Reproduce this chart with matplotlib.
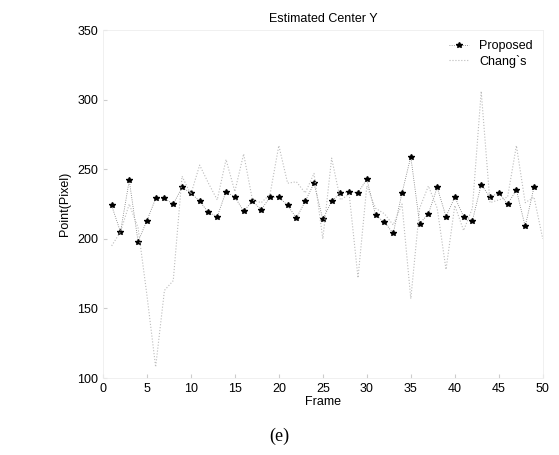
import matplotlib.pyplot as plt

# datos
frames_proposed = list(range(1, 50))
proposed = [224, 205, 242, 198, 213, 229, 229, 225, 237, 233,
            227, 219, 216, 234, 230, 220, 227, 221, 230, 230,
            224, 215, 227, 240, 214, 227, 233, 234, 233, 243,
            217, 212, 204, 233, 259, 211, 218, 237, 216, 230,
            216, 213, 239, 230, 233, 225, 235, 209, 237]

frames_chang = list(range(1, 51))
chang = [195, 205, 225, 208, 160, 108, 163, 170, 245, 232,
         253, 240, 228, 257, 234, 261, 228, 226, 232, 267,
         240, 241, 233, 247, 200, 258, 228, 232, 172, 238,
         222, 218, 210, 225, 157, 222, 238, 222, 178, 224,
         206, 222, 306, 226, 228, 230, 267, 226, 230, 200]

plt.rcParams['font.family'] = ['Liberation Sans', 'DejaVu Sans']

fig = plt.figure(figsize=(5.59, 4.55), dpi=100)
ax = fig.add_axes([0.184, 0.169, 0.787, 0.765])

ax.plot(frames_proposed, proposed, color='#777777', linestyle=':', linewidth=0.6,
        marker='*', markersize=4, markerfacecolor='black', markeredgecolor='black',
        label='Proposed')
ax.plot(frames_chang, chang, color='#bbbbbb', linestyle=':', linewidth=0.8,
        label='Chang`s')

ax.set_xlim(0, 50)
ax.set_ylim(100, 350)
ax.set_xticks(range(0, 51, 5))
ax.set_yticks(range(100, 351, 50))
ax.tick_params(direction='in', length=3, labelsize=9, color='#cccccc')
for s in ax.spines.values():
    s.set_color('#eeeeee')
    s.set_linewidth(0.6)

ax.set_title('Estimated Center Y', fontsize=9, pad=6)
ax.set_xlabel('Frame', fontsize=9, labelpad=1)
ax.set_ylabel('Point(Pixel)', fontsize=9, labelpad=4)
ax.legend(loc='upper right', frameon=False, fontsize=9, handlelength=1.6,
          borderaxespad=0.4, labelspacing=0.2)

fig.text(0.5, 0.03, '(e)', ha='center', fontsize=13, family='Liberation Serif')

fig.savefig('out.png', dpi=100)
